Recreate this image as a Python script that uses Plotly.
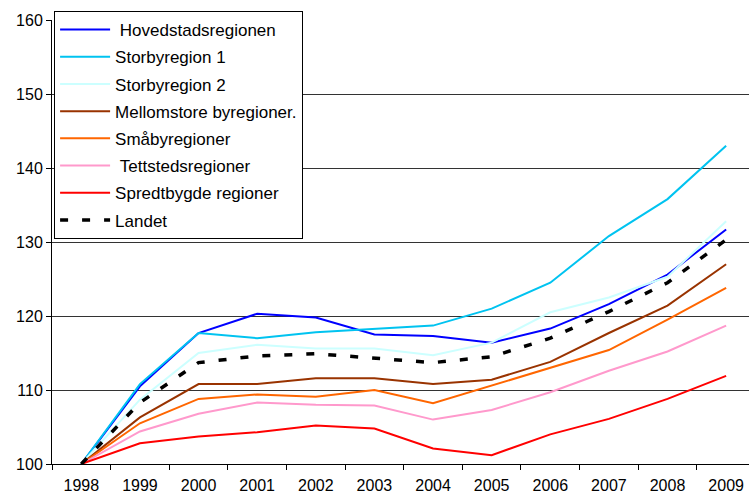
import plotly.graph_objects as go

# Index values, 1998 = 100
years = ["1998", "1999", "2000", "2001", "2002", "2003",
         "2004", "2005", "2006", "2007", "2008", "2009"]

hovedstad = [100, 110.5, 117.7, 120.3, 119.8, 117.5, 117.3, 116.4, 118.3, 121.6, 125.6, 131.7]
storby1 = [100, 110.8, 117.7, 117.0, 117.8, 118.2, 118.7, 121.0, 124.5, 130.8, 135.8, 143.0]
storby2 = [100, 108.7, 115.0, 116.1, 115.6, 115.6, 114.7, 116.4, 120.5, 122.5, 125.3, 132.8]
mellomstore = [100, 106.3, 110.8, 110.8, 111.6, 111.6, 110.8, 111.4, 113.8, 117.7, 121.4, 127.0]
smaby = [100, 105.5, 108.8, 109.4, 109.1, 110.0, 108.2, 110.6, 113.1, 115.4, 119.5, 123.8]
tettsted = [100, 104.4, 106.8, 108.3, 108.0, 107.9, 106.0, 107.3, 109.7, 112.6, 115.2, 118.7]
spredtbygd = [100, 102.8, 103.7, 104.3, 105.2, 104.8, 102.1, 101.2, 104.0, 106.1, 108.8, 111.9]
landet = [100, 108.3, 113.7, 114.6, 114.9, 114.3, 113.7, 114.5, 117.0, 120.6, 124.5, 130.3]

series = [
    ("\u00a0Hovedstadsregionen", hovedstad, "#0000FF", 2, "solid"),
    ("Storbyregion 1", storby1, "#00C3F0", 2, "solid"),
    ("Storbyregion 2", storby2, "#CCFFFF", 2, "solid"),
    ("Mellomstore byregioner.", mellomstore, "#993300", 2, "solid"),
    ("Småbyregioner", smaby, "#FF6600", 2, "solid"),
    ("\u00a0Tettstedsregioner", tettsted, "#FF99CC", 2, "solid"),
    ("Spredtbygde regioner", spredtbygd, "#FF0000", 2, "solid"),
    ("Landet", landet, "#000000", 3.5, "8px,14px"),
]

fig = go.Figure()
for i, (name, vals, color, width, dash) in enumerate(series):
    fig.add_trace(go.Scatter(
        x=years, y=vals, name=name, mode="lines",
        legendgroup=f"g{i}",
        line=dict(color=color, width=width, dash=dash),
    ))

font = dict(family="Liberation Sans, Arial, sans-serif", size=16, color="#000000")
legend_font = dict(family="Liberation Sans, Arial, sans-serif", size=17, color="#000000")

fig.update_layout(
    width=749, height=493,
    margin=dict(l=52, r=0, t=20, b=29),
    paper_bgcolor="white", plot_bgcolor="white",
    font=font,
    showlegend=True,
    legend=dict(
        x=0.003, y=1.0203, xanchor="left", yanchor="top",
        bgcolor="white", bordercolor="#000000", borderwidth=1,
        font=legend_font, tracegroupgap=2.1, traceorder="grouped",
        itemwidth=50,
    ),
    xaxis=dict(
        type="category", range=[-0.5, 11.39],
        tickson="boundaries", ticks="outside", ticklen=5, tickcolor="#000",
        showline=True, linecolor="#000", linewidth=1,
        showgrid=False, zeroline=False, ticklabelstandoff=7,
        automargin=False,
    ),
    yaxis=dict(
        range=[100, 160], dtick=10,
        ticks="outside", ticklen=5, tickcolor="#000",
        showline=True, linecolor="#000", linewidth=1,
        showgrid=True, gridcolor="#333333", gridwidth=1,
        zeroline=False, automargin=False,
    ),
)

fig.write_html("out.html")
